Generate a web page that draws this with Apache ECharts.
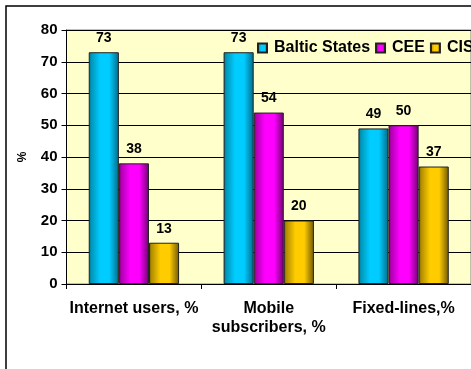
<!DOCTYPE html>
<html><head><meta charset="utf-8">
<script src="https://cdn.jsdelivr.net/npm/echarts@6/dist/echarts.min.js"></script>
<style>html,body{margin:0;padding:0;background:#fff}#c{width:471px;height:369px}</style>
</head><body><div id="c"></div>
<script>
const categories = ['Internet users, %', 'Mobile\nsubscribers, %', 'Fixed-lines,%'];
const seriesNames = ['Baltic States', 'CEE', 'CIS'];
const balticStates = [73, 73, 49];
const cee = [38, 54, 50];
const cis = [13, 20, 37];
const yTicks = [0, 10, 20, 30, 40, 50, 60, 70, 80];

const FONT = '"Liberation Sans", Arial, sans-serif';
function grad(dark, mid, bright) {
  return new echarts.graphic.LinearGradient(0, 0, 1, 0, [
    {offset: 0, color: dark},
    {offset: 0.08, color: mid},
    {offset: 0.38, color: bright},
    {offset: 0.68, color: bright},
    {offset: 1, color: dark}
  ]);
}
const colors = [
  grad('#006a88', '#0095b8', '#00ccff'),
  grad('#6e006e', '#b000b0', '#ff00ff'),
  grad('#705800', '#b08c00', '#ffcc00')
];
const data = [balticStates, cee, cis];

const chart = echarts.init(document.getElementById('c'), null, {renderer: 'canvas'});
chart.setOption({
  animation: false,
  backgroundColor: '#fff',
  textStyle: {fontFamily: FONT},
  graphic: [{
    type: 'rect', shape: {x: 6, y: 6, width: 520, height: 420},
    style: {fill: 'none', stroke: '#000', lineWidth: 1.5}, z: 100
  }],
  grid: {left: 66.5, top: 30, right: -3, bottom: 85, show: true,
    backgroundColor: '#FFFFCC', borderColor: '#808080', borderWidth: 1},
  legend: {
    data: seriesNames, left: 257, top: 40, width: 320, itemWidth: 9, itemHeight: 9, itemGap: 5,
    icon: 'rect', padding: 0,
    textStyle: {fontFamily: FONT, fontWeight: 'bold', fontSize: 16, color: '#000', padding: [0, 0, 0, 2]}
  },
  xAxis: {
    type: 'category', data: categories,
    axisLine: {lineStyle: {color: '#000', width: 1}},
    axisTick: {show: true, length: 5, lineStyle: {color: '#000'}},
    axisLabel: {fontFamily: FONT, fontWeight: 'bold', fontSize: 16, color: '#000', margin: 15, lineHeight: 19, interval: 0}
  },
  yAxis: {
    type: 'value', min: yTicks[0], max: yTicks[yTicks.length - 1], interval: 10,
    name: '%', nameLocation: 'middle', nameGap: 38, nameRotate: 90,
    nameTextStyle: {fontFamily: FONT, fontWeight: 'bold', fontSize: 12, color: '#000'},
    axisLine: {show: true, lineStyle: {color: '#000', width: 1}},
    axisTick: {show: true, length: 5, lineStyle: {color: '#000'}},
    splitLine: {lineStyle: {color: '#000', width: 1}},
    axisLabel: {fontFamily: FONT, fontWeight: 'bold', fontSize: 15, color: '#000', margin: 9,
      formatter: v => yTicks.includes(v) ? String(v) : ''}
  },
  series: seriesNames.map((n, i) => ({
    name: n, type: 'bar', data: data[i],
    barGap: '0%', barCategoryGap: '33%',
    itemStyle: {color: colors[i], borderColor: '#222', borderWidth: 1},
    label: {show: true, position: 'top', distance: 7, fontFamily: FONT, fontWeight: 'bold', fontSize: 14, color: '#000'}
  }))
});
</script></body></html>
